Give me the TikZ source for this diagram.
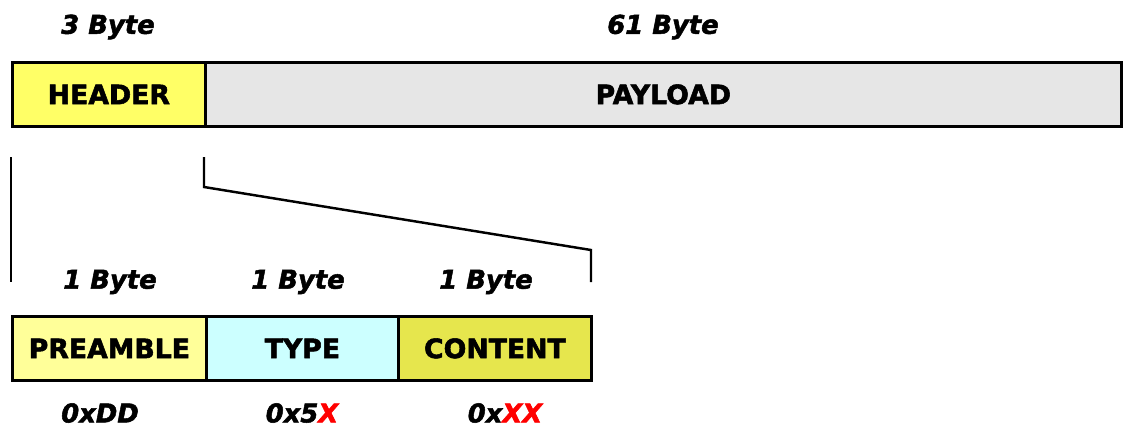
\documentclass[tikz,border=0pt]{standalone}
\usepackage{fontspec}
\setmainfont{DejaVu Sans}[BoldFeatures={FakeBold=2},BoldItalicFeatures={FakeBold=2}]
\definecolor{hdrfill}{HTML}{FFFF66}
\definecolor{payfill}{HTML}{E6E6E6}
\definecolor{prefill}{HTML}{FFFF99}
\definecolor{typefill}{HTML}{CCFFFF}
\definecolor{confill}{HTML}{E6E64D}
\tikzset{
  field/.style={draw, line width=1.6pt, anchor=north west, inner sep=0pt,
    minimum height=1.28cm, font=\fontsize{15.2}{18}\selectfont\bfseries},
  size/.style={inner sep=0.5pt, font=\fontsize{14.7}{17}\selectfont\bfseries\itshape},
}
\begin{document}
\begin{tikzpicture}[x=0.02cm, y=-0.02cm]
            \useasboundingbox (0,0) rectangle (1123,427);
            % frame
            \node[field, fill=hdrfill, minimum width=3.86cm] (header) at (11,61) {HEADER};
            \node[field, fill=payfill, minimum width=18.32cm] (payload) at (204,61) {PAYLOAD};
            \node[size] (hdrsize) at (108,27) {3 Byte};
            \node[size] (paysize) at (663,27) {61 Byte};

            % header fields
            \node[field, fill=prefill, minimum width=3.88cm] (preamble) at (11,315) {PREAMBLE};
            \node[field, fill=typefill, minimum width=3.84cm] (type) at (205,315) {TYPE};
            \node[field, fill=confill, minimum width=3.86cm] (content) at (397,315) {CONTENT};
            \node[size] (presize) at (110,282) {1 Byte};
            \node[size] (typesize) at (298,282) {1 Byte};
            \node[size] (consize) at (486,282) {1 Byte};
            \node[size] (preval) at (100,413) {0xDD};
            \node[size] (typeval) at (302,413) {0x5\textcolor{red}{X}};
            \node[size] (conval) at (505,413) {0x\textcolor{red}{XX}};

            % zoom lines
            \coordinate (la) at (11,157);
            \coordinate (lb) at (11,282);
            \coordinate (ra) at (204,157);
            \coordinate (rb) at (204,187);
            \coordinate (rc) at (591,250);
            \coordinate (rd) at (591,282);
            \draw[line width=1.4pt] (la) -- (lb);
            \draw[line width=1.4pt] (ra) -- (rb) -- (rc) -- (rd);
        \end{tikzpicture}
\end{document}
